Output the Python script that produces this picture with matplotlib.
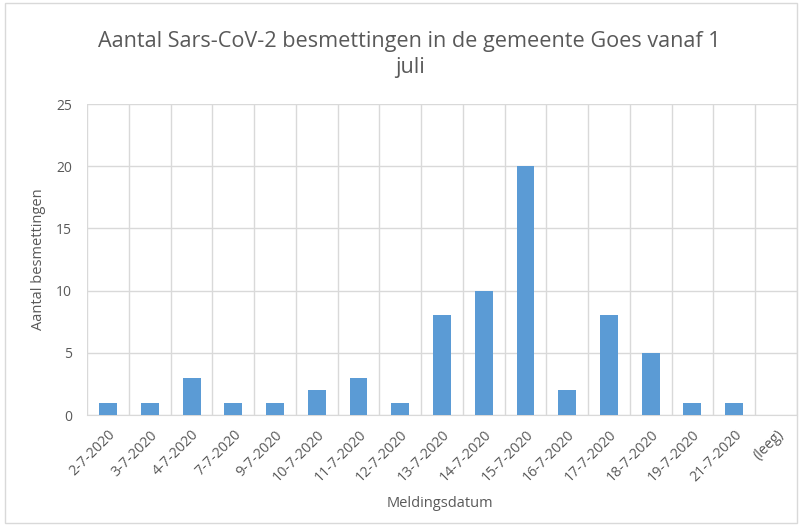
import matplotlib.pyplot as plt
import numpy as np
from matplotlib.patches import Rectangle
from matplotlib.transforms import ScaledTranslation

# Data
dates = ["2-7-2020", "3-7-2020", "4-7-2020", "7-7-2020", "9-7-2020", "10-7-2020",
         "11-7-2020", "12-7-2020", "13-7-2020", "14-7-2020", "15-7-2020", "16-7-2020",
         "17-7-2020", "18-7-2020", "19-7-2020", "21-7-2020", "(leeg)"]
counts = [1, 1, 3, 1, 1, 2, 3, 1, 8, 10, 20, 2, 8, 5, 1, 1, 0]

grey = "#595959"
plt.rcParams['font.family'] = ['Open Sans', 'DejaVu Sans']

fig = plt.figure(figsize=(8, 5.28), dpi=100)
ax = fig.add_axes([0.109, 0.214, 0.887, 0.589])

x = np.arange(len(dates))
ax.bar(x, counts, width=0.43, color="#5B9BD5", zorder=3)

ax.set_xlim(-0.5, len(dates) - 0.5)
ax.set_ylim(0, 25)
ax.set_yticks(range(0, 26, 5))
ax.set_xticks(x)
ax.set_xticklabels(dates, rotation=45, ha="right", va="top", rotation_mode="anchor",
                   fontsize=10.3, color=grey)
# shift the rotated labels a little to the right, like the original
offset = ScaledTranslation(5 / 100, 0, fig.dpi_scale_trans)
for lbl in ax.get_xticklabels():
    lbl.set_transform(lbl.get_transform() + offset)
ax.tick_params(axis="y", labelsize=10, labelcolor=grey, length=0, pad=11)
ax.tick_params(axis="x", length=0, pad=9)

# gridlines: horizontal on values, vertical between categories
ax.set_xticks(np.arange(-0.5, len(dates), 1), minor=True)
ax.grid(axis="y", color="#D9D9D9", linewidth=1, zorder=0)
ax.grid(axis="x", which="minor", color="#D9D9D9", linewidth=1, zorder=0)
ax.tick_params(axis="x", which="minor", length=0)
for s in ax.spines.values():
    s.set_visible(False)
ax.spines["bottom"].set_visible(True)
ax.spines["bottom"].set_color("#D9D9D9")

ax.set_xlabel("Meldingsdatum", fontsize=10.5, color=grey, va="center")
ax.xaxis.set_label_coords(0.497, -0.283)
ax.set_ylabel("Aantal besmettingen", fontsize=10.5, color=grey, va="center")
ax.yaxis.set_label_coords(-0.069, 0.5)

fig.text(0.512, 0.897, "Aantal Sars-CoV-2 besmettingen in de gemeente Goes vanaf 1\njuli",
         ha="center", va="center", fontsize=15.6, color=grey, linespacing=1.35)

# chart border
fig.patches.append(Rectangle((0.006, 0.01), 0.99, 0.985, transform=fig.transFigure,
                             fill=False, edgecolor="#D9D9D9", linewidth=1))

fig.savefig("out.png", dpi=100)
